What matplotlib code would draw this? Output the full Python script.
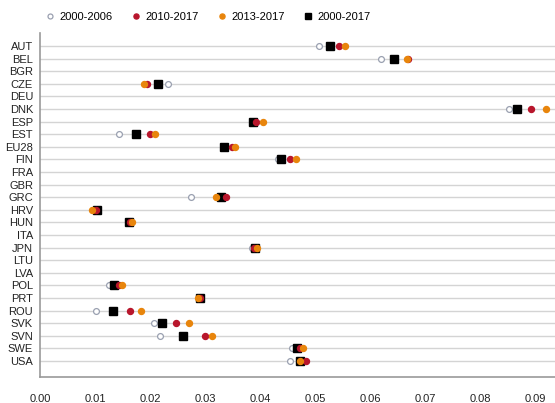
import numpy as np
from matplotlib import pyplot as plt

plt.rcParams['font.family'] = ['Liberation Sans', 'DejaVu Sans']

countries = ['AUT', 'BEL', 'BGR', 'CZE', 'DEU', 'DNK', 'ESP', 'EST', 'EU28', 'FIN',
             'FRA', 'GBR', 'GRC', 'HRV', 'HUN', 'ITA', 'JPN', 'LTU', 'LVA', 'POL',
             'PRT', 'ROU', 'SVK', 'SVN', 'SWE', 'USA']

nan = np.nan
p2000_2006 = [0.0507, 0.0619, nan, 0.0232, nan, 0.0852, 0.0386, 0.0143, 0.0334, 0.0433,
              nan, nan, 0.0275, 0.0104, 0.0162, nan, 0.0385, nan, nan, 0.0125,
              0.0290, 0.0101, 0.0207, 0.0218, 0.0457, 0.0454]
p2010_2017 = [0.0543, 0.0669, nan, 0.0195, nan, 0.0891, 0.0393, 0.0200, 0.0348, 0.0454,
              nan, nan, 0.0337, 0.0101, 0.0163, nan, 0.0388, nan, nan, 0.0144,
              0.0290, 0.0163, 0.0247, 0.0300, 0.0472, 0.0483]
p2013_2017 = [0.0554, 0.0667, nan, 0.0189, nan, 0.0919, 0.0404, 0.0209, 0.0354, 0.0465,
              nan, nan, 0.0319, 0.0095, 0.0167, nan, 0.0394, nan, nan, 0.0149,
              0.0286, 0.0183, 0.0271, 0.0312, 0.0477, 0.0472]
p2000_2017 = [0.0526, 0.0643, nan, 0.0215, nan, 0.0866, 0.0386, 0.0174, 0.0334, 0.0437,
              nan, nan, 0.0328, 0.0104, 0.0162, nan, 0.0391, nan, nan, 0.0135,
              0.0290, 0.0132, 0.0221, 0.0260, 0.0466, 0.0472]

y = np.arange(len(countries))

fig = plt.figure(figsize=(5.55, 4.03), dpi=100)
ax = fig.add_axes([40 / 555, 1 - 377 / 403, 1 - 40 / 555, (377 - 33) / 403])

for yy in y:
    ax.axhline(yy, color='#d4d4d4', lw=1, zorder=0)

ax.plot(p2000_2006, y, 'o', ms=4.2, mfc='white', mec='#9aa0b0', mew=0.9,
        ls='none', label='2000-2006', zorder=2)
ax.plot(p2000_2017, y, 's', ms=5.3, color='black', ls='none', label='2000-2017', zorder=3)
ax.plot(p2010_2017, y, 'o', ms=4.3, color='#b8162c', ls='none', label='2010-2017', zorder=4)
ax.plot(p2013_2017, y, 'o', ms=4.3, color='#e8850c', ls='none', label='2013-2017', zorder=5)

ax.set_xlim(0, 0.0935)
ax.set_ylim(len(countries) - 1 + 1.27, -1.03)
ax.set_xticks(np.arange(0, 0.091, 0.01))
ax.set_xticklabels(['%.2f' % v for v in np.arange(0, 0.091, 0.01)])
ax.set_yticks(y)
ax.set_yticklabels(countries)
ax.tick_params(length=0, labelsize=8, colors='#222222')
ax.tick_params(axis='x', pad=12)
ax.tick_params(axis='y', pad=5)

for s in ['top', 'right']:
    ax.spines[s].set_visible(False)
for s in ['left', 'bottom']:
    ax.spines[s].set_color('#999999')
    ax.spines[s].set_linewidth(1.2)

h, l = ax.get_legend_handles_labels()
order = [0, 2, 3, 1]
fig.legend([h[i] for i in order], [l[i] for i in order], loc='center left',
           bbox_to_anchor=(33 / 555, 1 - 17 / 403), ncol=4, frameon=False,
           fontsize=8, handletextpad=0.3, columnspacing=1.45, handlelength=1.2,
           markerscale=0.85)

plt.savefig('out.png', dpi=100)
